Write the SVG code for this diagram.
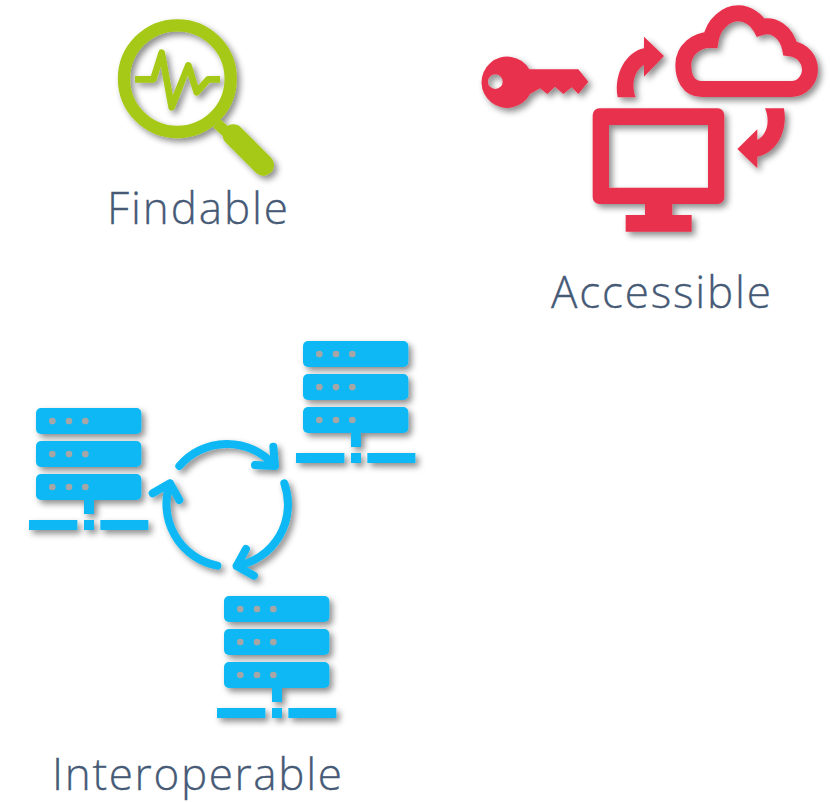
<svg xmlns="http://www.w3.org/2000/svg" width="830" height="802" viewBox="0 0 830 802">
<style>
.label{font-family:"Open Sans","Lato","Liberation Sans",sans-serif;font-weight:300;font-size:44px;fill:#465a76;stroke:#465a76;stroke-width:0.3}
.green{fill:none;stroke:#a5c916}
.red{fill:#e8334e}
.blue{fill:#0bb8f4}
.dot{fill:#a6a6a6}
.cyc{fill:none;stroke:#0bb8f4;stroke-width:24;stroke-linecap:round;stroke-linejoin:round}
</style>
<defs>
<filter id="sh" x="-20%" y="-20%" width="150%" height="150%">
<feDropShadow dx="10" dy="11" stdDeviation="9" flood-color="#000" flood-opacity="0.45"/>
</filter>
<g id="server">
<rect class="blue" x="48" y="234" width="316" height="78" rx="15"/>
<rect class="blue" x="48" y="333" width="316" height="78" rx="15"/>
<rect class="blue" x="48" y="432" width="316" height="78" rx="15"/>
<g class="dot">
<circle cx="97" cy="273" r="10"/><circle cx="147" cy="273" r="10"/><circle cx="196" cy="273" r="10"/>
<circle cx="97" cy="372" r="10"/><circle cx="147" cy="372" r="10"/><circle cx="196" cy="372" r="10"/>
<circle cx="97" cy="471" r="10"/><circle cx="147" cy="471" r="10"/><circle cx="196" cy="471" r="10"/>
</g>
<rect class="blue" x="192" y="510" width="30" height="42"/>
<rect class="blue" x="27" y="570" width="145" height="30"/>
<rect class="blue" x="192" y="570" width="30" height="30"/>
<rect class="blue" x="241" y="570" width="144" height="30"/>
</g>
</defs>

<g id="findable">
<g filter="url(#sh)" transform="translate(100,10) scale(0.33333)">
<circle class="green" cx="232" cy="206" r="160" stroke-width="37"/>
<path class="green" d="M105 208H160L185 128L215 292L265 166L290 247L325 208H360" stroke-width="20" stroke-linejoin="round"/>
<path class="green" d="M350 340L400 385" stroke-width="32"/>
<path class="green" d="M400 375L490 465" stroke-width="64" stroke-linecap="round"/>
</g>
<text class="label" x="107" y="224" textLength="181">Findable</text>
</g>

<g id="accessible">
<g filter="url(#sh)" transform="translate(470,0) scale(0.33333)">
<path id="key" class="red" fill-rule="evenodd" d="M178 208H325L355 245L325 282L305 262L280 282L255 260L232 282L210 265L180 282A77 77 0 1 1 178 208ZM76 223A22 22 0 1 0 76 267A22 22 0 1 0 76 223Z"/>
<path id="cloud" fill="none" stroke="#e8334e" stroke-width="48" d="M695 267C655 267 640 230 640 195C640 150 680 118 722 120C730 70 770 40 805 40C835 40 860 60 872 82C910 70 950 95 960 145C1000 150 1020 180 1020 208C1020 240 995 267 965 267Z"/>
<path id="monitor" class="red" fill-rule="evenodd" d="M388 325H743A20 20 0 0 1 763 345V592A20 20 0 0 1 743 612H607V645H665V695H467V645H525V612H388A20 20 0 0 1 368 592V345A20 20 0 0 1 388 325ZM417 375V563H714V375Z"/>
</g>
<text class="label" x="551" y="308" textLength="220">Accessible</text>
</g>

<g id="server-left" filter="url(#sh)" transform="translate(20,330) scale(0.33333)"><use href="#server"/></g>
<g id="server-right" filter="url(#sh)" transform="translate(287,263) scale(0.33333)"><use href="#server"/></g>
<g id="server-bottom" filter="url(#sh)" transform="translate(208,518) scale(0.33333)"><use href="#server"/></g>
<g id="interoperable"><text class="label" x="52" y="790" textLength="290">Interoperable</text></g>

<g id="connectors">
<g filter="url(#sh)" transform="translate(470,0) scale(0.33333)">
<path class="red" d="M443 292C430 220 470 155 522 145V110L582 168L522 230V195C495 210 482 250 497 292Z"/>
<path class="red" d="M885 325H942C955 400 915 460 862 470V505L802 447L862 388V420C890 405 902 365 885 325Z"/>
</g>
<g filter="url(#sh)" transform="translate(20,330) scale(0.33333)">
<path class="cyc" d="M478 408A188 188 0 0 1 762 405M705 405L765 408L760 350"/>
<path class="cyc" d="M793 460A188 188 0 0 1 650 708M678 657L650 708L702 737"/>
<path class="cyc" d="M592 707A188 188 0 0 1 450 460M398 490L450 460L478 510"/>
</g>
</g>
</svg>
